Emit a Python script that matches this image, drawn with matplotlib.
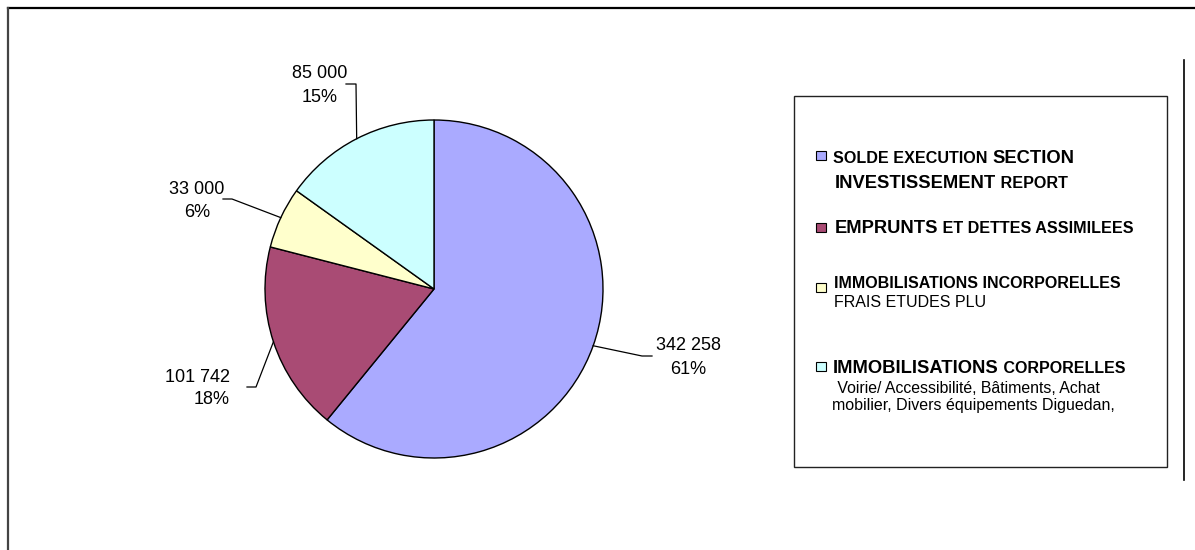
import matplotlib
matplotlib.use('Agg')
import matplotlib.pyplot as plt
import numpy as np
from matplotlib.lines import Line2D
from matplotlib.patches import Rectangle

plt.rcParams['font.family'] = ['Liberation Sans', 'DejaVu Sans']

# ---------------- data ----------------
categories = [
    'SOLDE EXECUTION SECTION INVESTISSEMENT REPORT',
    'EMPRUNTS ET DETTES ASSIMILEES',
    'IMMOBILISATIONS INCORPORELLES FRAIS ETUDES PLU',
    'IMMOBILISATIONS CORPORELLES',
]
values = [342258, 101742, 33000, 85000]
colors = ['#AAAAFF', '#A94B74', '#FFFFCC', '#CCFFFF']

# legend text: rows -> lines -> pieces (text, size, weight)
legend_texts = [
    [[('SOLDE EXECUTION ', 11.6, 'bold'), ('SECTION', 13.2, 'bold')],
     [('INVESTISSEMENT', 13.2, 'bold'), (' REPORT', 11.6, 'bold')]],
    [[('EMPRUNTS', 13.2, 'bold'), (' ET DETTES ASSIMILEES', 11.6, 'bold')]],
    [[('IMMOBILISATIONS INCORPORELLES', 11.5, 'bold')],
     [('FRAIS ETUDES PLU', 11.5, 'normal')]],
    [[('IMMOBILISATIONS', 13.2, 'bold'), (' CORPORELLES', 11.5, 'bold')],
     [(' Voirie/ Accessibilité, Bâtiments, Achat', 11.45, 'normal')],
     [('mobilier, Divers équipements Diguedan,', 11.5, 'normal')]],
]

# ---------------- layout (pixels from top-left) ----------------
W, H = 1195, 550
CX, CY, R = 434, 289, 169
# label layout: (text x, line1 y, line2 y, ha, elbow point, end point)
label_layout = [
    (688, 346, 369, 'center', (642, 356), (652, 356)),
    (230, 377, 400, 'right', (256, 387), (247, 387)),
    (197, 189, 213, 'center', (232, 199), (223, 199)),
    (320, 73, 97, 'center', (356, 84), (346, 84)),
]
legend_box = (794, 96, 1167, 467)
legend_marker_y = [155.5, 227, 287, 366]
legend_marker_x = (816, 826)
legend_line_x = [[833, 835], [835], [834, 834], [833, 833, 832]]
legend_baselines = [[163, 188], [233], [288, 307], [373, 393, 410]]

fig = plt.figure(figsize=(W / 100, H / 100), dpi=100)


def fx(px):
    return px / W


def fy(py):
    return 1 - py / H


ax = fig.add_axes([fx(CX - R), fy(CY + R), 2 * R / W, 2 * R / H])
wedges, _ = ax.pie(values, colors=colors, startangle=90, counterclock=False,
                   radius=1, wedgeprops=dict(edgecolor='black', linewidth=1.0))
ax.set_xlim(-1, 1)
ax.set_ylim(-1, 1)
ax.axis('off')

total = sum(values)
inv = fig.transFigure.inverted()
for w, v, lay in zip(wedges, values, label_layout):
    tx, y1, y2, ha, elbow, end = lay
    mid = np.deg2rad((w.theta1 + w.theta2) / 2)
    start_disp = ax.transData.transform((np.cos(mid), np.sin(mid)))
    sx, sy = inv.transform(start_disp)
    xs = [sx, fx(elbow[0]), fx(end[0])]
    ys = [sy, fy(elbow[1]), fy(end[1])]
    fig.add_artist(Line2D(xs, ys, color='black', linewidth=0.9))
    vtxt = f"{v:,}".replace(',', ' ')
    ptxt = f"{round(v / total * 100)}%"
    fig.text(fx(tx), fy(y1), vtxt, ha=ha, va='center', fontsize=13)
    fig.text(fx(tx), fy(y2), ptxt, ha=ha, va='center', fontsize=13)

# legend box
x0, y0, x1, y1 = legend_box
fig.add_artist(Rectangle((fx(x0), fy(y1)), fx(x1 - x0), (y1 - y0) / H,
                         fill=False, edgecolor='#222222', linewidth=1.0))

renderer = fig.canvas.get_renderer()
for i, rows in enumerate(legend_texts):
    my = legend_marker_y[i]
    mx0, mx1 = legend_marker_x
    fig.add_artist(Rectangle((fx(mx0), fy(my + 4.5)), fx(mx1 - mx0), 9 / H,
                             facecolor=colors[i], edgecolor='black', linewidth=0.8))
    for j, line in enumerate(rows):
        x = legend_line_x[i][j]
        xf = fx(x)
        for txt, size, weight in line:
            t = fig.text(xf, fy(legend_baselines[i][j]), txt, ha='left',
                         va='baseline', fontsize=size, fontweight=weight)
            bb = t.get_window_extent(renderer)
            xf = inv.transform((bb.x1, bb.y0))[0]

# outer border fragments
fig.add_artist(Line2D([fx(8), fx(W)], [fy(8), fy(8)], color='black', linewidth=1.6))
fig.add_artist(Line2D([fx(8), fx(8)], [fy(8), fy(H)], color='#444444', linewidth=1.6))
fig.add_artist(Line2D([fx(1184), fx(1184)], [fy(60), fy(480)], color='black', linewidth=1.2))

fig.savefig('out.png', dpi=100, facecolor='white')
